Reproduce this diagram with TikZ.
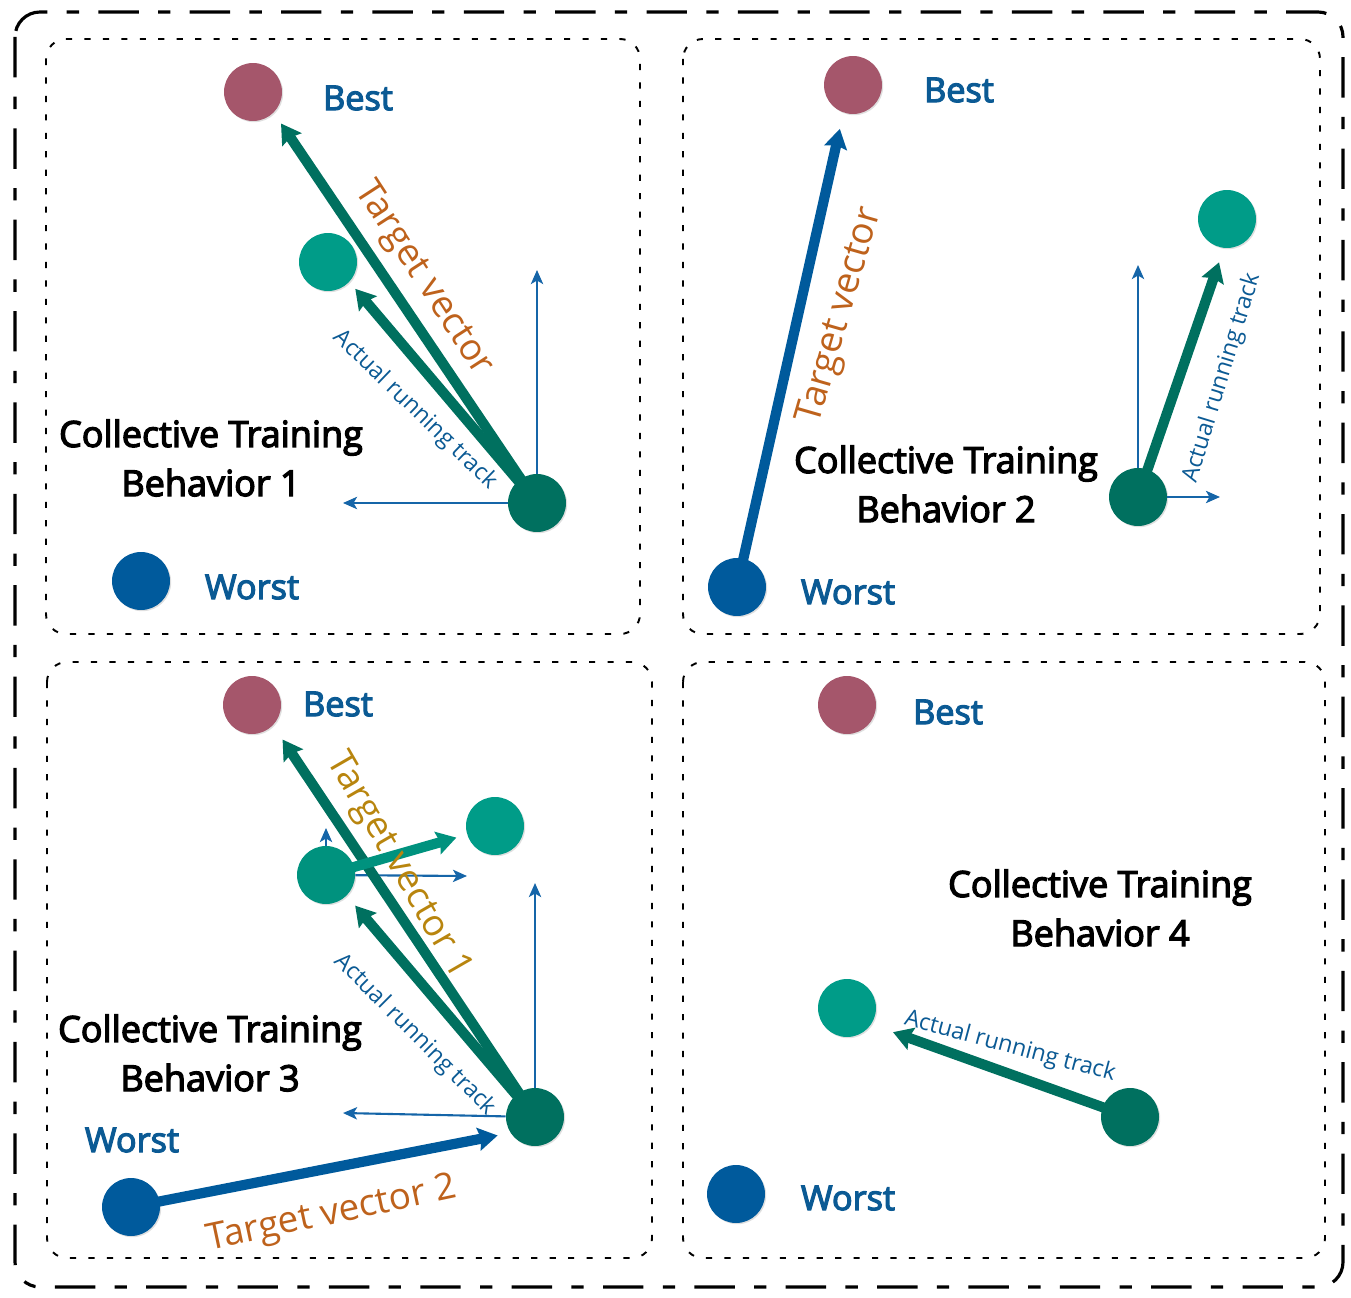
\documentclass[tikz,border=0pt]{standalone}
\usepackage{fontspec}
\setmainfont{Open Sans}
\newfontfamily\ctbsemi{Open Sans}[FakeBold=3.5]
\usetikzlibrary{arrows.meta,positioning,shadows}
\definecolor{ctbbest}{HTML}{A5566B}
\definecolor{ctbworst}{HTML}{005A9C}
\definecolor{ctblight}{HTML}{009C88}
\definecolor{ctbmid}{HTML}{00927E}
\definecolor{ctbdark}{HTML}{00705F}
\definecolor{ctbblue}{HTML}{0B5A94}
\definecolor{ctbaxis}{HTML}{1565A8}
\definecolor{ctborange}{HTML}{BE621C}
\definecolor{ctbgold}{HTML}{B8850E}

\begin{document}
\begin{tikzpicture}[x=0.02cm, y=-0.02cm,
  ball/.style={circle, minimum size=1.16cm, inner sep=0pt,
    drop shadow={opacity=0.25, shadow xshift=0.7pt, shadow yshift=-0.7pt}},
  bestdot/.style={ball, fill=ctbbest},
  worstdot/.style={ball, fill=ctbworst},
  lightdot/.style={ball, fill=ctblight},
  middot/.style={ball, fill=ctbmid},
  darkdot/.style={ball, fill=ctbdark},
  tag/.style={text=ctbblue, font=\ctbsemi\fontsize{19.5}{22}\selectfont},
  title/.style={align=center, font=\ctbsemi\fontsize{20.5}{28}\selectfont},
  vlabel/.style={font=\fontsize{21}{24}\selectfont, inner sep=0pt},
  tlabel/.style={text=ctbblue, font=\fontsize{13.2}{15}\selectfont, inner sep=0pt},
  thick vec/.style={line width=5.8pt, -{Stealth[length=11pt, width=13pt, inset=1.5pt]}},
  axis/.style={ctbaxis, line width=1.2pt, -{Stealth[length=8pt, width=7pt, inset=2pt]}},
  frame/.style={line width=1.8pt, rounded corners=0.5cm,
    dash pattern=on 23pt off 11pt on 7pt off 11pt},
  panel/.style={line width=1.1pt, rounded corners=0.4cm,
    dash pattern=on 3.5pt off 7pt}]

\useasboundingbox (0,0) rectangle (1351,1297);

% frames
\draw[frame] (15,12) rectangle (1343,1287);
\draw[panel] (46,39) rectangle (640,634);
\draw[panel] (683,39) rectangle (1320,634);
\draw[panel] (47,662) rectangle (652,1258);
\draw[panel] (683,662) rectangle (1325,1258);

% behavior 1
\node[bestdot] (best1) at (253,92) {};
\node[lightdot] (lt1) at (328,262) {};
\node[darkdot] (dk1) at (537,503) {};
\node[worstdot] (worst1) at (141,581) {};
\node[tag] (bestt1) at (358,98) {Best};
\node[tag] (worstt1) at (252,587) {Worst};
\node[title] (cap1) at (211,458) {Collective Training\\Behavior 1};
\coordinate (up1) at (537,270);
\coordinate (lf1) at (343,503);
\draw[axis] (dk1) -- (up1);
\draw[axis] (dk1) -- (lf1);
\draw[thick vec, ctbdark, shorten >=0.26cm] (dk1.center) -- (best1.-45);
\draw[thick vec, ctbdark, shorten >=0.18cm] (dk1.center) -- (lt1.-43);
\node[vlabel, text=ctborange, rotate=-57] (tv1) at (423,279) {Target vector};
\node[tlabel, rotate=-44] (ar1) at (415,410) {Actual running track};

% behavior 2
\node[bestdot] (best2) at (853,85) {};
\node[lightdot] (lt2) at (1227,219) {};
\node[darkdot] (dk2) at (1138,497) {};
\node[worstdot] (worst2) at (737,587) {};
\node[tag] (bestt2) at (959,90) {Best};
\node[tag] (worstt2) at (848,592) {Worst};
\node[title] (cap2) at (946,484) {Collective Training\\Behavior 2};
\coordinate (up2) at (1138,265);
\coordinate (rt2) at (1220,497);
\draw[axis] (dk2) -- (up2);
\draw[axis] (dk2) -- (rt2);
\draw[thick vec, ctbworst, shorten >=0.33cm] (worst2.center) -- (best2.-109);
\draw[thick vec, ctbdark, shorten >=0.3cm] (dk2.center) -- (lt2.-96);
\node[vlabel, text=ctborange, rotate=74] (tv2) at (841,316) {Target vector};
\node[tlabel, rotate=73] (ar2) at (1222,378) {Actual running track};

% behavior 3
\node[bestdot] (best3) at (252,705) {};
\node[lightdot] (lt3) at (495,826) {};
\node[middot] (md3) at (326,875) {};
\node[darkdot] (dk3) at (535,1117) {};
\node[worstdot] (worst3) at (131,1207) {};
\node[tag] (bestt3) at (338,704) {Best};
\node[tag] (worstt3) at (132,1140) {Worst};
\node[title] (cap3) at (210,1053) {Collective Training\\Behavior 3};
\coordinate (up3a) at (326,828);
\coordinate (rt3a) at (467,876);
\coordinate (up3b) at (535,883);
\coordinate (lf3b) at (343,1113);
\draw[axis] (md3) -- (up3a);
\draw[axis] (md3) -- (rt3a);
\draw[axis] (dk3) -- (up3b);
\draw[axis] (dk3) -- (lf3b);
\draw[thick vec, ctbdark, shorten >=0.34cm] (dk3.center) -- (best3.-44);
\draw[thick vec, ctbdark, shorten >=0.26cm] (dk3.center) -- (md3.-45);
\draw[thick vec, ctbmid, shorten >=0.22cm] (md3.center) -- (lt3.197);
\draw[thick vec, ctbworst, shorten >=0.26cm] (worst3.center) -- (dk3.213);
\node[vlabel, text=ctbgold, rotate=-60] (tv3a) at (398,866) {Target vector 1};
\node[vlabel, text=ctborange, rotate=12] (tv3b) at (332,1215) {Target vector 2};
\node[tlabel, rotate=-45] (ar3) at (415,1035) {Actual running track};

% behavior 4
\node[bestdot] (best4) at (847,705) {};
\node[lightdot] (lt4) at (847,1008) {};
\node[darkdot] (dk4) at (1130,1117) {};
\node[worstdot] (worst4) at (736,1194) {};
\node[tag] (bestt4) at (948,712) {Best};
\node[tag] (worstt4) at (848,1198) {Worst};
\node[title] (cap4) at (1100,908) {Collective Training\\Behavior 4};
\draw[thick vec, ctbdark, shorten >=0.46cm] (dk4.center) -- (lt4.-34);
\node[tlabel, rotate=-15] (ar4) at (1010,1047) {Actual running track};
\end{tikzpicture}
\end{document}
